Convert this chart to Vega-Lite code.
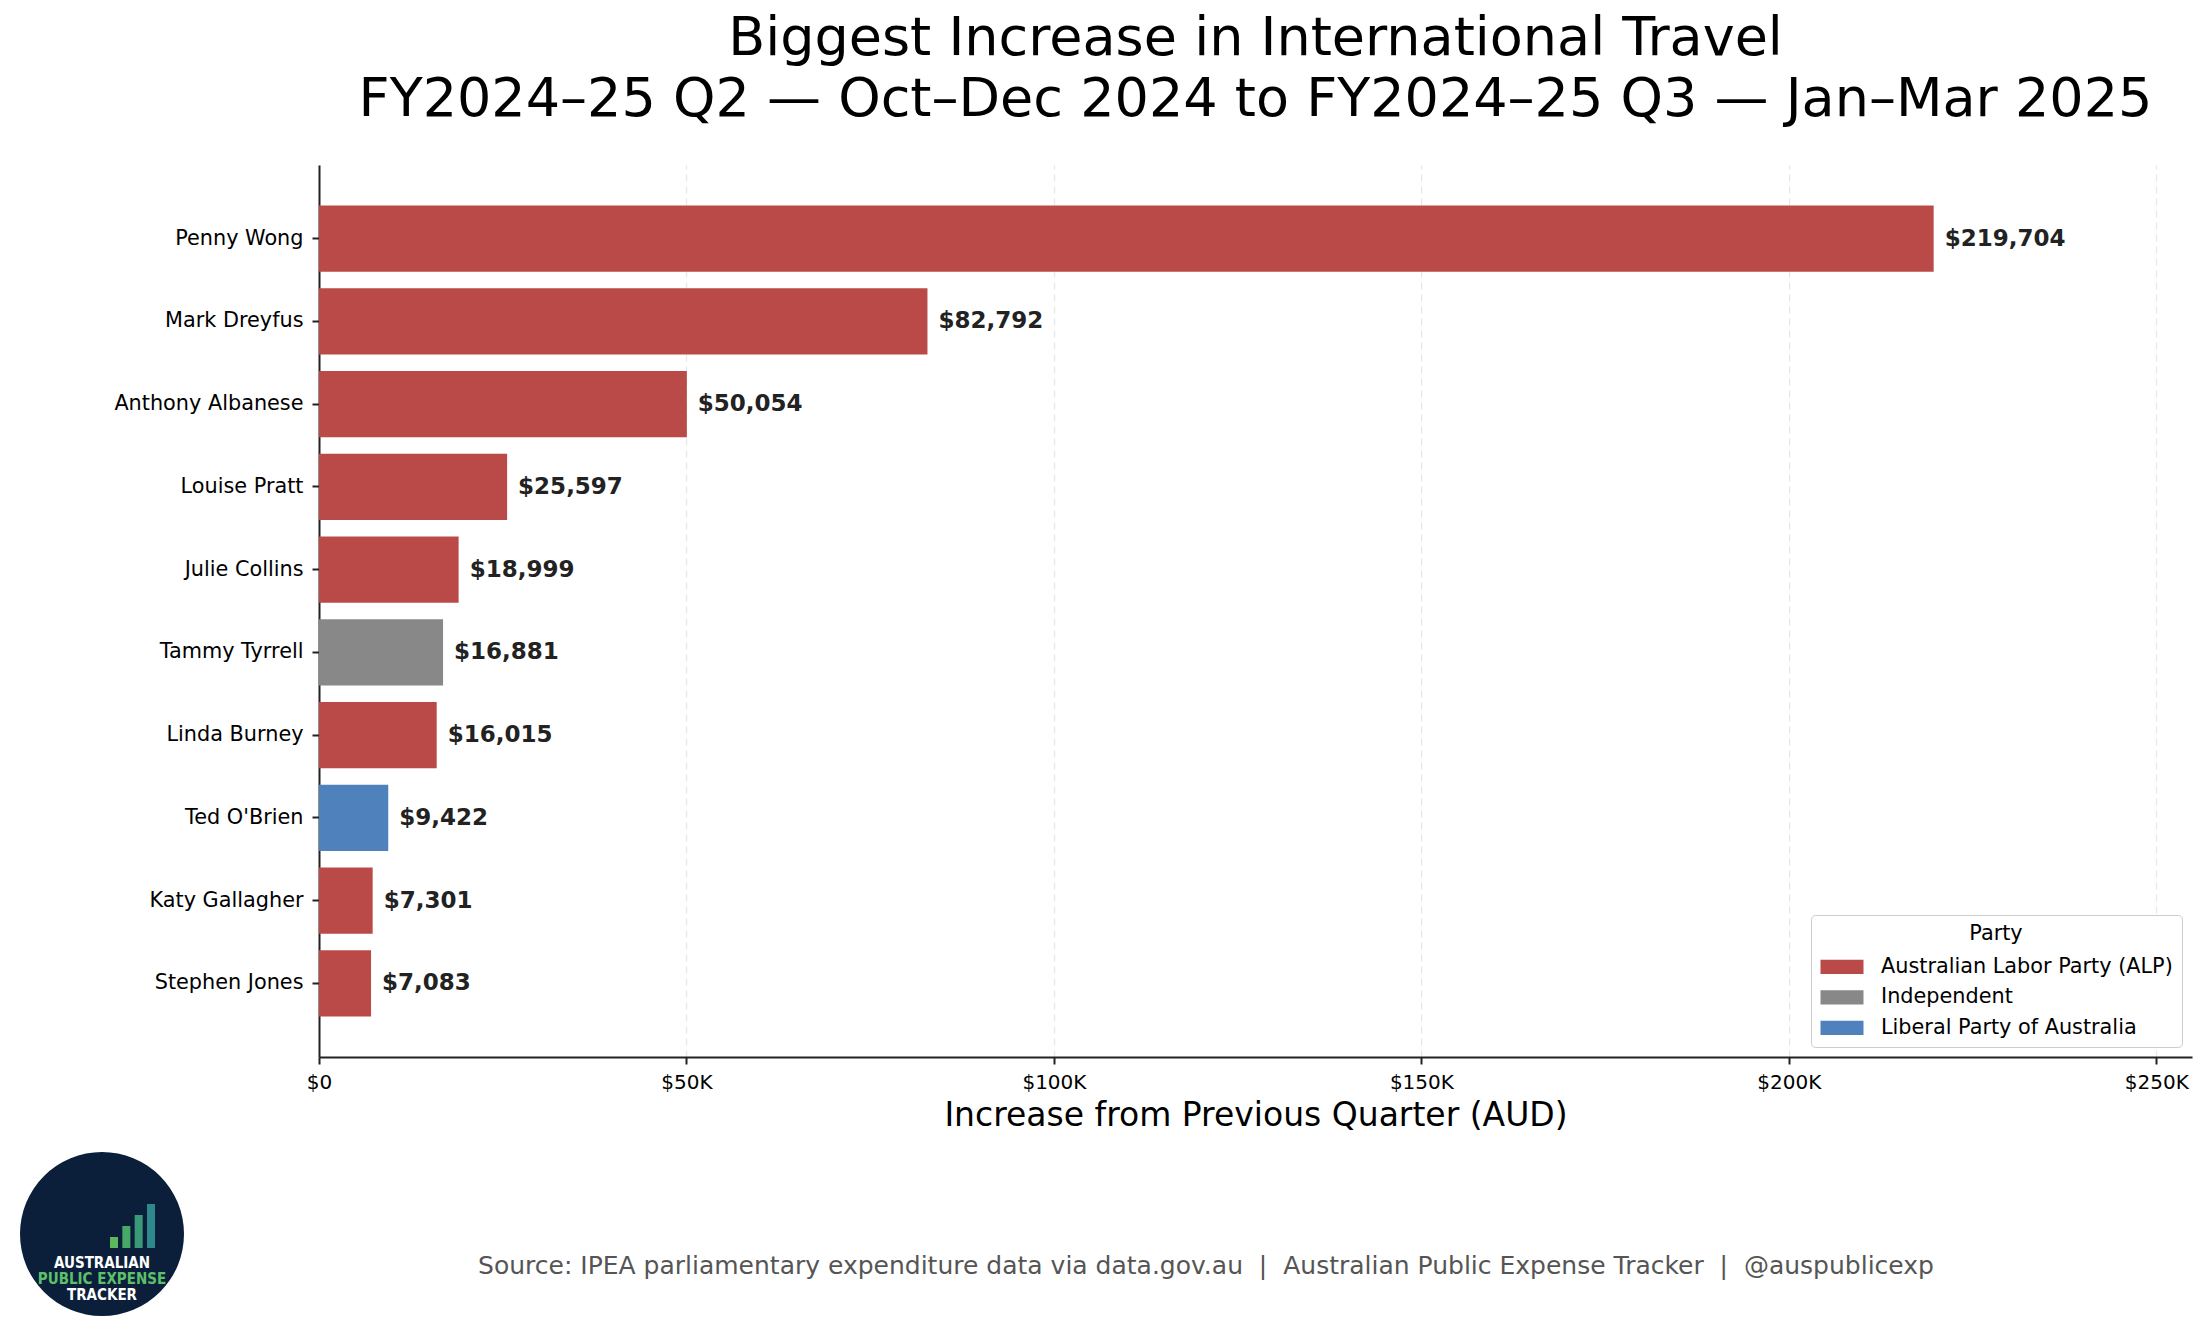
{
  "$schema": "https://vega.github.io/schema/vega-lite/v6.json",
  "background": "white",
  "padding": {"left": 5, "right": 5, "top": 12, "bottom": 5},
  "config": {
    "view": {"stroke": null},
    "font": "DejaVu Sans",
    "text": {"font": "DejaVu Sans"}
  },
  "spacing": 17,
  "resolve": {
    "scale": {"color": "independent"},
    "legend": {"color": "independent"}
  },
  "vconcat": [
    {
      "width": 1873,
      "height": 892,
      "title": {
        "text": [
          "Biggest Increase in International Travel",
          "FY2024–25 Q2 — Oct–Dec 2024 to FY2024–25 Q3 — Jan–Mar 2025"
        ],
        "font": "DejaVu Sans",
        "fontSize": 54,
        "fontWeight": "normal",
        "color": "#000000",
        "frame": "group",
        "anchor": "middle",
        "lineHeight": 61,
        "offset": 38
      },
      "data": {
        "values": [
          {"name": "Penny Wong", "party": "Australian Labor Party (ALP)", "value": 219704},
          {"name": "Mark Dreyfus", "party": "Australian Labor Party (ALP)", "value": 82792},
          {"name": "Anthony Albanese", "party": "Australian Labor Party (ALP)", "value": 50054},
          {"name": "Louise Pratt", "party": "Australian Labor Party (ALP)", "value": 25597},
          {"name": "Julie Collins", "party": "Australian Labor Party (ALP)", "value": 18999},
          {"name": "Tammy Tyrrell", "party": "Independent", "value": 16881},
          {"name": "Linda Burney", "party": "Australian Labor Party (ALP)", "value": 16015},
          {"name": "Ted O'Brien", "party": "Liberal Party of Australia", "value": 9422},
          {"name": "Katy Gallagher", "party": "Australian Labor Party (ALP)", "value": 7301},
          {"name": "Stephen Jones", "party": "Australian Labor Party (ALP)", "value": 7083}
        ]
      },
      "encoding": {
        "y": {
          "field": "name",
          "type": "nominal",
          "sort": "-x",
          "scale": {"paddingInner": 0.2, "paddingOuter": 0.49},
          "axis": {
            "title": null,
            "labelFont": "DejaVu Sans",
            "labelFontSize": 20.8,
            "labelColor": "#000000",
            "labelLimit": 0,
            "labelPadding": 9,
            "tickSize": 7,
            "tickWidth": 2,
            "tickColor": "#222222",
            "domainColor": "#222222",
            "domainWidth": 2,
            "minExtent": 314,
            "grid": false
          }
        },
        "x": {
          "field": "value",
          "type": "quantitative",
          "scale": {"domain": [0, 254857], "nice": false, "zero": true},
          "axis": {
            "title": "Increase from Previous Quarter (AUD)",
            "titleFont": "DejaVu Sans",
            "titleFontSize": 33,
            "titleFontWeight": "normal",
            "titleColor": "#000000",
            "titlePadding": 7,
            "values": [0, 50000, 100000, 150000, 200000, 250000],
            "labelExpr": "datum.value == 0 ? '$0' : '$' + (datum.value / 1000) + 'K'",
            "labelFont": "DejaVu Sans",
            "labelFontSize": 20,
            "labelColor": "#000000",
            "labelPadding": 8,
            "labelFlush": false,
            "tickSize": 7,
            "tickWidth": 2,
            "tickColor": "#222222",
            "domainColor": "#222222",
            "domainWidth": 2,
            "grid": true,
            "gridColor": "#dddddd",
            "gridDash": [7, 5],
            "gridWidth": 1.2,
            "gridOpacity": 0.7
          }
        }
      },
      "layer": [
        {
          "mark": {"type": "bar"},
          "encoding": {
            "color": {
              "field": "party",
              "type": "nominal",
              "scale": {
                "domain": ["Australian Labor Party (ALP)", "Independent", "Liberal Party of Australia"],
                "range": ["#b94a48", "#888888", "#4f81bd"]
              },
              "legend": {
                "title": "Party",
                "orient": "bottom-right",
                "offset": 10,
                "padding": 9,
                "fillColor": "#ffffff",
                "strokeColor": "#cccccc",
                "cornerRadius": 4,
                "titleFont": "DejaVu Sans",
                "titleFontSize": 20.8,
                "titleFontWeight": "normal",
                "titleColor": "#000000",
                "titleAnchor": "middle",
                "titleAlign": "center",
                "titlePadding": 11,
                "labelFont": "DejaVu Sans",
                "labelFontSize": 20.8,
                "labelColor": "#000000",
                "labelLimit": 0,
                "labelOffset": 28,
                "rowPadding": 9.5,
                "symbolType": "M-2,-0.66L2,-0.66L2,0.66L-2,0.66Z",
                "symbolSize": 462,
                "symbolOffset": 11,
                "symbolStrokeWidth": 0
              }
            }
          }
        },
        {
          "mark": {
            "type": "text",
            "align": "left",
            "baseline": "middle",
            "dx": 11,
            "font": "DejaVu Sans",
            "fontSize": 23,
            "fontWeight": "bold",
            "color": "#222222"
          },
          "encoding": {
            "text": {"field": "value", "type": "quantitative", "format": "$,.0f"}
          }
        }
      ]
    },
    {
      "width": 1774,
      "height": 170,
      "resolve": {
        "scale": {"x": "independent", "y": "independent", "color": "independent"}
      },
      "layer": [
        {
          "data": {
            "values": [
              {"note": "Source: IPEA parliamentary expenditure data via data.gov.au \u00a0|\u00a0 Australian Public Expense Tracker \u00a0|\u00a0 @auspublicexp"}
            ]
          },
          "mark": {
            "type": "text",
            "font": "DejaVu Sans",
            "fontSize": 25,
            "color": "#555555",
            "baseline": "middle",
            "dy": 32
          },
          "encoding": {
            "text": {"field": "note"}
          }
        },
        {
          "data": {"values": [{"logo": "Australian Public Expense Tracker"}]},
          "mark": {
            "type": "point",
            "shape": "circle",
            "filled": true,
            "color": "#0b1f3a",
            "opacity": 1,
            "size": 26896
          },
          "encoding": {
            "x": {
              "field": "logo",
              "type": "nominal",
              "scale": {"type": "point", "range": [-314, -120], "padding": 0.5},
              "axis": null
            }
          }
        },
        {
          "data": {
            "values": [
              {"bar": "a", "level": 1},
              {"bar": "b", "level": 2},
              {"bar": "c", "level": 3},
              {"bar": "d", "level": 4}
            ]
          },
          "mark": {"type": "bar"},
          "encoding": {
            "x": {
              "field": "bar",
              "type": "nominal",
              "scale": {"type": "band", "range": [-209, -164], "paddingInner": 0.35, "paddingOuter": 0},
              "axis": null
            },
            "y": {
              "field": "level",
              "type": "quantitative",
              "scale": {"domain": [0, 4], "range": [99, 55]},
              "axis": null
            },
            "color": {
              "field": "bar",
              "type": "nominal",
              "scale": {
                "domain": ["a", "b", "c", "d"],
                "range": ["#5cb85c", "#48a868", "#3a9a78", "#2e8a8a"]
              },
              "legend": null
            }
          }
        },
        {
          "data": {
            "values": [
              {"line": "AUSTRALIAN", "order": 1},
              {"line": "PUBLIC EXPENSE", "order": 2},
              {"line": "TRACKER", "order": 3}
            ]
          },
          "mark": {
            "type": "text",
            "font": "Liberation Sans Narrow, DejaVu Sans Condensed, DejaVu Sans",
            "fontSize": 15,
            "fontWeight": "bold",
            "baseline": "middle"
          },
          "encoding": {
            "text": {"field": "line"},
            "x": {
              "datum": "Australian Public Expense Tracker",
              "type": "nominal",
              "scale": {"type": "point", "range": [-314, -120], "padding": 0.5},
              "axis": null
            },
            "y": {
              "field": "order",
              "type": "ordinal",
              "scale": {"type": "point", "range": [114, 146], "padding": 0},
              "axis": null
            },
            "color": {
              "field": "line",
              "type": "nominal",
              "scale": {
                "domain": ["AUSTRALIAN", "PUBLIC EXPENSE", "TRACKER"],
                "range": ["#ffffff", "#5cc06b", "#ffffff"]
              },
              "legend": null
            }
          }
        }
      ]
    }
  ]
}
